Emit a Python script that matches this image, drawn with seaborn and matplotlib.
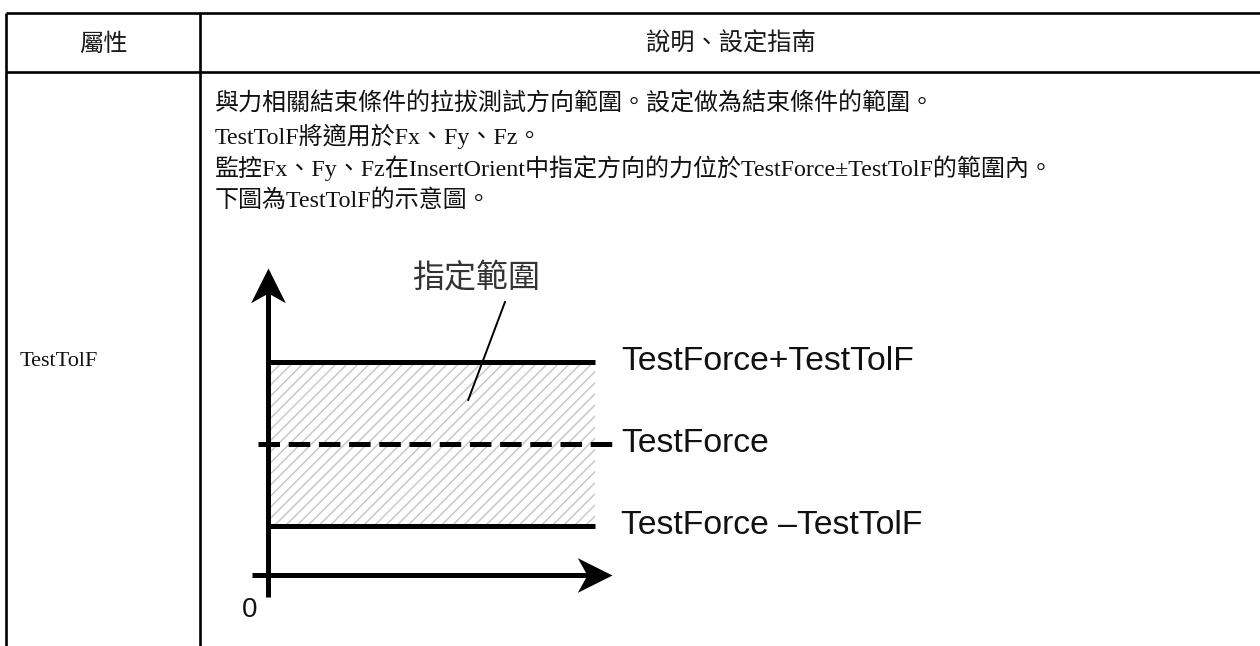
import pandas as pd
import matplotlib.pyplot as plt
from matplotlib.path import Path
import seaborn as sns

# table text
headers = ["屬性", "說明、設定指南"]
prop_name = "TestTolF"
desc_lines = [
    "與力相關結束條件的拉拔測試方向範圍。設定做為結束條件的範圍。",
    "TestTolF將適用於Fx、Fy、Fz。",
    "監控Fx、Fy、Fz在InsertOrient中指定方向的力位於TestForce±TestTolF的範圍內。",
    "下圖為TestTolF的示意圖。",
]

# diagram values
range_label = "指定範圍"
test_force = 1.6
test_tol = 1.0
level_names = ["TestForce+TestTolF", "TestForce", "TestForce –TestTolF"]
level_values = [test_force + test_tol, test_force, test_force - test_tol]
level_start = [0.0, -0.03, 0.0]
level_end = [1.0, 1.052, 1.0]

sns.set_theme(style="white")
plt.rcParams["font.family"] = ["Liberation Serif", "Noto Sans CJK TC"]
plt.rcParams["hatch.linewidth"] = 1.1
plt.rcParams["hatch.color"] = "#c8c8c8"

W, H = 1260, 646
fig = plt.figure(figsize=(W / 100, H / 100), dpi=100)

# page axes in pixel units for the table frame and text
ax = fig.add_axes([0, 0, 1, 1])
ax.set_xlim(0, W)
ax.set_ylim(H, 0)
ax.axis("off")

col_x = [6, 200]
row_y = [13, 72]
for y in row_y:
    ax.plot([col_x[0], W], [y, y], color="black", lw=1.9, solid_capstyle="butt")
for x in col_x:
    ax.plot([x, x], [row_y[0], H], color="black", lw=1.9, solid_capstyle="butt")

ax.text(103, 44, headers[0], ha="center", va="center", fontsize=17.5,
        family=["Noto Sans CJK TC"], color="#1a1a1a")
ax.text(731, 44, headers[1], ha="center", va="center", fontsize=17.5,
        family=["Noto Sans CJK TC"], color="#1a1a1a")
ax.text(20, 362, prop_name, ha="left", va="center", fontsize=16, color="#111111")
for i, line in enumerate(desc_lines):
    ax.text(215, 104 + i * 32.3, line, ha="left", va="center", fontsize=17.3,
            color="#111111")

# diagram axes
dax = fig.add_axes([240 / W, (H - 625) / H, 760 / W, 370 / H])

upper, center, lower = level_values
dax.fill_between([0, level_end[0]], lower, upper, facecolor="white",
                 edgecolor="#c8c8c8", hatch="///", linewidth=0)

rows = []
for name, val, x0, x1 in zip(level_names, level_values, level_start, level_end):
    rows.append({"level": name, "x": x0, "y": val})
    rows.append({"level": name, "x": x1, "y": val})
df = pd.DataFrame(rows)
sns.lineplot(data=df, x="x", y="y", units="level", estimator=None,
             style="level", dashes={level_names[0]: "", level_names[1]: (4.3, 1.74),
                                    level_names[2]: ""},
             color="black", linewidth=3.6, legend=False, ax=dax)
for line in dax.lines:
    line.set_solid_capstyle("butt")
    line.set_dash_capstyle("butt")
dax.set_xlim(-0.0856, 2.2385)
dax.set_ylim(-0.61, 3.90)
dax.axis("off")

# axes with arrow heads
head_up = Path([(0, 0), (-0.5, -1), (0, -0.72), (0.5, -1), (0, 0)],
               [Path.MOVETO, Path.LINETO, Path.LINETO, Path.LINETO, Path.CLOSEPOLY])
head_right = Path([(0, 0), (-1, 0.5), (-0.72, 0), (-1, -0.5), (0, 0)],
                  [Path.MOVETO, Path.LINETO, Path.LINETO, Path.LINETO, Path.CLOSEPOLY])
dax.plot([0, 0], [-0.27, 3.45], color="black", lw=3.6, solid_capstyle="butt")
dax.plot([-0.05, 1.0], [0, 0], color="black", lw=3.6, solid_capstyle="butt")
dax.plot([0], [3.74], marker=head_up, markersize=50, color="black", markeredgewidth=0)
dax.plot([1.052], [0], marker=head_right, markersize=50, color="black", markeredgewidth=0)

# leader to the range label
dax.plot([0.725, 0.612], [3.33, 2.13], color="black", lw=1.4)
dax.text(0.635, 3.62, range_label, ha="center", va="center", fontsize=23,
         family=["Noto Sans CJK TC"], color="#333333")

for name, val in zip(level_names, level_values):
    dax.text(1.08, val, name, ha="left", va="center", fontsize=24.3,
             family=["Liberation Sans"], color="#111111")
dax.text(-0.055, -0.43, "0", ha="center", va="center", fontsize=20,
         family=["Liberation Sans"], color="#111111")

fig.savefig("out.png", dpi=100)
